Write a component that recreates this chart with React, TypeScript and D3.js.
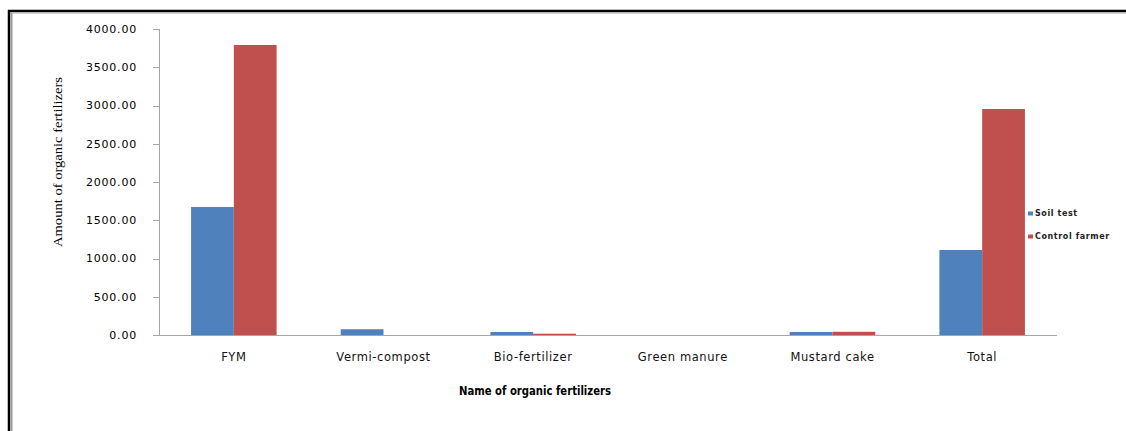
import React from "react";
import * as d3 from "d3";

const categories = ["FYM", "Vermi-compost", "Bio-fertilizer", "Green manure", "Mustard cake", "Total"];
const seriesNames = ["Soil test", "Control farmer"];
const soilTest = [1673, 75, 40, 0, 40, 1111];
const controlFarmer = [3791, 0, 17, 0, 42, 2954];
const yTicks = [0, 500, 1000, 1500, 2000, 2500, 3000, 3500, 4000];
const colors = ["#4F81BD", "#C0504D"];

const W = 1126;
const H = 431;
const plot = { left: 159, right: 1057, top: 29, bottom: 335 };

export default function App() {
  // Excel-like: gap width 150% => group occupies 2/3.5 of band
  const band = (plot.right - plot.left) / categories.length;
  const groupW = (band * 2) / 3.5;
  const xc = d3
    .scalePoint<string>()
    .domain(categories)
    .range([plot.left + band / 2, plot.right - band / 2]);
  const xs = d3.scaleBand<string>().domain(seriesNames).range([-groupW / 2, groupW / 2]);
  const y = d3.scaleLinear().domain([0, 4000]).range([plot.bottom, plot.top]);
  const fmt = d3.format(".2f");
  const series = [soilTest, controlFarmer];

  return (
    <svg
      width={W}
      height={H}
      style={{ position: "absolute", left: 0, top: 0, background: "#fff" }}
    >
      <rect x={0} y={0} width={W} height={H} fill="#fff" />
      {/* frame */}
      <line x1={8} y1={11} x2={W} y2={11} stroke="#000" strokeWidth={2.5} />
      <line x1={12.5} y1={13} x2={W} y2={13} stroke="#aaa" strokeWidth={1} />
      <line x1={9} y1={10} x2={9} y2={H} stroke="#000" strokeWidth={2.5} />
      <line x1={11.5} y1={13} x2={11.5} y2={H} stroke="#999" strokeWidth={2} />

      {/* bars */}
      {series.map((vals, si) =>
        categories.map((c, i) => {
          const bx = (xc(c) as number) + (xs(seriesNames[si]) as number);
          const yv = y(vals[i]);
          return (
            <rect
              key={`${si}-${i}`}
              x={bx}
              y={yv}
              width={xs.bandwidth()}
              height={plot.bottom - yv}
              fill={colors[si]}
            />
          );
        })
      )}

      {/* y axis */}
      <line x1={plot.left + 0.5} y1={plot.top} x2={plot.left + 0.5} y2={plot.bottom} stroke="#a6a6a6" />
      {yTicks.map((t) => (
        <g key={t}>
          <line x1={plot.left - 6} x2={plot.left} y1={Math.round(y(t)) + 0.5} y2={Math.round(y(t)) + 0.5} stroke="#a6a6a6" />
          <text
            x={137}
            y={y(t)}
            dy="0.35em"
            textAnchor="end"
            fontFamily="DejaVu Sans, Verdana, sans-serif"
            fontSize={11}
            letterSpacing={0.8}
            fill="#000"
          >
            {fmt(t)}
          </text>
        </g>
      ))}
      {/* x axis */}
      <line x1={plot.left - 6} x2={plot.right} y1={plot.bottom + 0.5} y2={plot.bottom + 0.5} stroke="#a6a6a6" />
      {categories.map((c) => (
        <text
          key={c}
          x={xc(c)}
          y={357}
          dy="0.35em"
          textAnchor="middle"
          fontFamily="DejaVu Sans, Verdana, sans-serif"
          fontSize={11.5}
          letterSpacing={0.6}
          fill="#111"
        >
          {c}
        </text>
      ))}

      {/* axis titles */}
      <text
        x={535}
        y={391}
        dy="0.35em"
        textAnchor="middle"
        fontFamily="DejaVu Sans Condensed, DejaVu Sans, sans-serif"
        fontWeight="bold"
        fontSize={12.5}
        textLength={152}
        lengthAdjust="spacingAndGlyphs"
        fill="#000"
      >
        Name of organic fertilizers
      </text>
      <text
        transform={`translate(58,162) rotate(-90)`}
        textAnchor="middle"
        dy="0.35em"
        fontFamily="Liberation Serif, Times New Roman, serif"
        fontSize={12.5}
        textLength={170}
        lengthAdjust="spacingAndGlyphs"
        fill="#000"
      >
        Amount of organic fertilizers
      </text>

      {/* legend */}
      {seriesNames.map((s, i) => (
        <g key={s} transform={`translate(1028, ${213 + i * 23})`}>
          <rect x={0} y={-1.5} width={5} height={4} fill={colors[i]} />
          <text
            x={7}
            y={0.5}
            dy="0.35em"
            fontFamily="DejaVu Sans, Verdana, sans-serif"
            fontSize={8}
            fontWeight="bold"
            letterSpacing={0.6}
            fill="#222"
          >
            {s}
          </text>
        </g>
      ))}
    </svg>
  );
}
